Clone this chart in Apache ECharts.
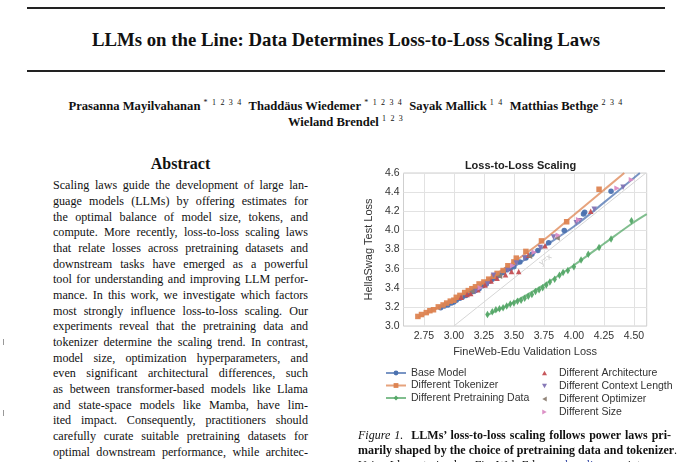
<!DOCTYPE html>
<html>
<head>
<meta charset="utf-8">
<script src="https://cdn.jsdelivr.net/npm/echarts@6/dist/echarts.min.js"></script>
<style>
  html, body { margin: 0; padding: 0; background: #fff; }
  #page { position: relative; width: 680px; height: 462px; overflow: hidden; background: #fff; color: #111;
          font-family: "Liberation Serif", "Times New Roman", serif; }
  .abs { position: absolute; }
  .rule { position: absolute; left: 27px; width: 638px; height: 2px; background: #222; }
  .title { left: 27px; width: 638px; top: 29px; text-align: center; font-weight: bold; font-size: 18.8px; line-height: 22px; }
  .authors { left: 27px; width: 638px; text-align: center; font-weight: bold; font-size: 12.6px; line-height: 16px; white-space: nowrap; }
  .authors sup { font-weight: normal; font-size: 8px; letter-spacing: 1.2px; vertical-align: 5px; line-height: 0; }
  .abshead { left: 53px; width: 255px; top: 155px; text-align: center; font-weight: bold; font-size: 16px; line-height: 18px; }
  .col { left: 53px; width: 255px; top: 178.2px; font-size: 12.1px; line-height: 15.67px; }
  .col div, .cap div { text-align: justify; text-align-last: justify; white-space: nowrap; overflow: visible; }
  .cap { left: 358px; width: 313px; top: 428px; font-size: 12px; line-height: 15px; }
  .cap b { font-weight: bold; }
  .mark { position: absolute; left: 3px; width: 1px; height: 6px; background: #999; }
  #chart { position: absolute; left: 355px; top: 150px; width: 320px; height: 290px; }
</style>
</head>
<body>
<div id="page">
  <div class="rule" style="top:7px"></div>
  <div class="abs title">LLMs on the Line: Data Determines Loss-to-Loss Scaling Laws</div>
  <div class="rule" style="top:70px"></div>
  <div class="abs authors" style="top:98px">Prasanna Mayilvahanan<sup> * 1 2 3 4</sup>&nbsp; Thaddäus Wiedemer<sup> * 1 2 3 4</sup>&nbsp; Sayak Mallick<sup> 1 4</sup>&nbsp; Matthias Bethge<sup> 2 3 4</sup></div>
  <div class="abs authors" style="top:114px">Wieland Brendel<sup> 1 2 3</sup></div>

  <div class="abs abshead">Abstract</div>
  <div class="abs col">
    <div>Scaling laws guide the development of large lan-</div>
    <div>guage models (LLMs) by offering estimates for</div>
    <div>the optimal balance of model size, tokens, and</div>
    <div>compute. More recently, loss-to-loss scaling laws</div>
    <div>that relate losses across pretraining datasets and</div>
    <div>downstream tasks have emerged as a powerful</div>
    <div>tool for understanding and improving LLM perfor-</div>
    <div>mance. In this work, we investigate which factors</div>
    <div>most strongly influence loss-to-loss scaling. Our</div>
    <div>experiments reveal that the pretraining data and</div>
    <div>tokenizer determine the scaling trend. In contrast,</div>
    <div>model size, optimization hyperparameters, and</div>
    <div>even significant architectural differences, such</div>
    <div>as between transformer-based models like Llama</div>
    <div>and state-space models like Mamba, have lim-</div>
    <div>ited impact. Consequently, practitioners should</div>
    <div>carefully curate suitable pretraining datasets for</div>
    <div>optimal downstream performance, while architec-</div>
  </div>
  <div class="mark" style="top:339px"></div>
  <div class="mark" style="top:410px"></div>

  <div id="chart"></div>

  <div class="abs cap">
    <div><i>Figure 1.</i>&nbsp; <b>LLMs’ loss-to-loss scaling follows power laws pri-</b></div>
    <div><b>marily shaped by the choice of pretraining data and tokenizer</b>.</div>
    <div>Using Llama trained on FineWeb-Edu as a <span style="color:#3b4fa8">baseline</span>, we intervene</div>
  </div>
</div>

<script>
// ---------- data ----------
const xTicks = [2.75, 3.00, 3.25, 3.50, 3.75, 4.00, 4.25, 4.50];
const yTicks = [3.0, 3.2, 3.4, 3.6, 3.8, 4.0, 4.2, 4.4, 4.6];

const baseModel = [[2.89,3.19],[2.92,3.21],[2.95,3.22],[2.98,3.24],[3.00,3.25],[3.02,3.27],[3.05,3.29],[3.07,3.30],
  [3.10,3.32],[3.13,3.34],[3.16,3.36],[3.18,3.37],[3.21,3.39],[3.24,3.42],[3.27,3.44],[3.30,3.47],[3.32,3.49],
  [3.35,3.51],[3.38,3.53],[3.41,3.56],[3.44,3.59],[3.47,3.60],[3.50,3.62],[3.55,3.67],[3.60,3.71],[3.65,3.75],
  [3.70,3.79],[3.79,3.87],[3.92,4.00],[4.08,4.17],[4.09,4.19],[4.31,4.41]];
const baseFit = [[2.88,3.19],[3.00,3.255],[3.25,3.43],[3.50,3.62],[3.75,3.83],[4.00,4.04],[4.25,4.29],[4.55,4.60]];

const tokenizer = [[2.70,3.10],[2.73,3.12],[2.77,3.14],[2.80,3.16],[2.83,3.17],[2.87,3.20],[2.91,3.22],[2.94,3.24],
  [2.97,3.26],[3.00,3.27],[3.02,3.30],[3.05,3.32],[3.09,3.35],[3.12,3.37],[3.15,3.39],[3.18,3.41],[3.21,3.44],
  [3.25,3.46],[3.29,3.49],[3.33,3.52],[3.36,3.55],[3.41,3.58],[3.45,3.63],[3.50,3.67],[3.52,3.71],[3.60,3.78],
  [3.73,3.89],[3.94,4.09],[4.21,4.43]];
const tokenizerFit = [[2.70,3.09],[2.85,3.18],[3.00,3.28],[3.25,3.46],[3.50,3.67],[3.75,3.90],[4.00,4.16],[4.20,4.37],[4.42,4.60]];

const pretrainData = [[3.28,3.12],[3.32,3.15],[3.35,3.17],[3.38,3.18],[3.41,3.19],[3.44,3.21],[3.47,3.23],[3.50,3.24],
  [3.53,3.26],[3.56,3.27],[3.59,3.29],[3.62,3.31],[3.65,3.33],[3.68,3.36],[3.71,3.38],[3.74,3.40],[3.77,3.43],
  [3.80,3.46],[3.84,3.49],[3.88,3.53],[3.91,3.56],[3.95,3.58],[4.00,3.62],[4.06,3.69],[4.12,3.75],[4.21,3.82],
  [4.31,3.91],[4.48,4.10]];
const pretrainFit = [[3.27,3.11],[3.50,3.25],[3.75,3.43],[4.00,3.635],[4.25,3.86],[4.50,4.085],[4.607,4.17]];

const architecture = [[3.06,3.30],[3.11,3.33],[3.14,3.34],[3.20,3.38],[3.26,3.43],[3.31,3.47],[3.36,3.50],[3.43,3.535],
  [3.48,3.57],[3.54,3.57],[3.62,3.74],[3.76,3.84],[4.14,4.20]];
const contextLength = [[3.18,3.36],[3.28,3.44],[3.33,3.53],[3.45,3.58],[3.52,3.66],[3.59,3.71],[3.72,3.82],[3.83,3.93],
  [4.02,4.08],[4.05,4.10],[4.17,4.22],[4.41,4.45]];
const optimizer = [[3.15,3.36],[3.38,3.52],[3.63,3.73],[3.86,3.92]];
const sizes = [[3.22,3.40],[3.49,3.63],[3.67,3.77],[3.87,3.95],[4.04,4.11],[4.36,4.44],[4.48,4.53]];
const identity = [[3.0,3.0],[3.74,3.74],[4.6,4.6]];

// ---------- chart ----------
const C = { blue:'#4C72B0', orange:'#DD8452', green:'#55A868', red:'#C44E52', purple:'#8172B3', brown:'#8c7e72', pink:'#DA8BC3' };
const TRI = {
  up:    'path://M5,0L10,9L0,9Z',
  down:  'path://M0,0L10,0L5,9Z',
  left:  'path://M9,0L9,10L0,5Z',
  right: 'path://M0,0L0,10L9,5Z'
};
const FONT = '"Liberation Sans", Arial, sans-serif';
const chart = echarts.init(document.getElementById('chart'), null, { renderer: 'canvas' });

function fitLine(name, data, color, symbol) {
  return { name, type: 'line', data, smooth: 0.35, symbol, symbolSize: 5, showSymbol: false, silent: true, z: 3,
    lineStyle: { color, width: 2, opacity: 0.75 }, itemStyle: { color } };
}
function pts(name, data, color, symbol, size) {
  return { name, type: 'scatter', data, symbol, symbolSize: size, z: 4,
    itemStyle: { color, opacity: 0.95 } };
}
const legText = { fontSize: 10.5, color: '#333', fontFamily: FONT };

chart.setOption({
  animation: false,
  textStyle: { fontFamily: FONT },
  grid: { left: 38.3, top: 23, width: 253.4, height: 153, show: true, borderColor: '#cfcfcf', borderWidth: 1 },
  graphic: [{ type: 'text', x: 165.5, y: 15.5, style: { text: 'Loss-to-Loss Scaling', textAlign: 'center', textVerticalAlign: 'middle',
    font: 'bold 11px ' + FONT, fill: '#222' } }],
  xAxis: { type: 'value', min: 2.58, max: 4.607,
    name: 'FineWeb-Edu Validation Loss', nameLocation: 'middle', nameGap: 16,
    nameTextStyle: { fontSize: 11, color: '#333', fontFamily: FONT },
    axisLine: { show: false }, axisTick: { show: false, customValues: xTicks },
    axisLabel: { customValues: xTicks, formatter: v => v.toFixed(2), fontSize: 10.5, color: '#333', margin: 5, fontFamily: FONT },
    splitLine: { show: true, lineStyle: { color: '#e2e2e2', width: 1 } } },
  yAxis: { type: 'value', min: 3.0, max: 4.6, interval: 0.2,
    name: 'HellaSwag Test Loss', nameLocation: 'middle', nameGap: 20,
    nameTextStyle: { fontSize: 11, color: '#333', fontFamily: FONT },
    axisLine: { show: false }, axisTick: { show: false },
    axisLabel: { formatter: v => v.toFixed(1), fontSize: 10.5, color: '#333', margin: 4, fontFamily: FONT },
    splitLine: { show: true, lineStyle: { color: '#e2e2e2', width: 1 } } },
  legend: [
    { orient: 'vertical', left: 25, top: 212.5, itemWidth: 20, itemHeight: 6, itemGap: 1.5,
      textStyle: legText, selectedMode: false,
      data: ['Base Model', 'Different Tokenizer', 'Different Pretraining Data'] },
    { orient: 'vertical', left: 182, top: 212.5, itemWidth: 5, itemHeight: 5, itemGap: 2,
      textStyle: Object.assign({ padding: [0, 0, 0, 7] }, legText), selectedMode: false,
      data: ['Different Architecture', 'Different Context Length', 'Different Optimizer', 'Different Size'] }
  ],
  series: [
    { name: 'y=x', type: 'line', symbol: 'circle', symbolSize: 0, showSymbol: true, silent: true, z: 1,
      lineStyle: { color: '#d6d6d6', width: 1 }, itemStyle: { color: '#d6d6d6' },
      data: identity.map((p, i) => i === 1 ? { value: p, label: { show: true, formatter: 'y=x', position: 'bottom', distance: 1,
        rotate: 37.5, fontSize: 8.5, color: '#cccccc', fontFamily: FONT } } : p) },
    fitLine('Base Model', baseFit, C.blue, 'circle'),
    fitLine('Different Tokenizer', tokenizerFit, C.orange, 'rect'),
    fitLine('Different Pretraining Data', pretrainFit, C.green, 'diamond'),
    pts('Base Model', baseModel, C.blue, 'circle', 5.5),
    pts('Different Tokenizer', tokenizer, C.orange, 'rect', 5.5),
    pts('Different Pretraining Data', pretrainData, C.green, 'diamond', [4.5, 7.5]),
    pts('Different Architecture', architecture, C.red, TRI.up, 5.5),
    pts('Different Context Length', contextLength, C.purple, TRI.down, 5.5),
    pts('Different Optimizer', optimizer, C.brown, TRI.left, 5.5),
    pts('Different Size', sizes, C.pink, TRI.right, 5.5)
  ]
});
</script>
</body>
</html>
